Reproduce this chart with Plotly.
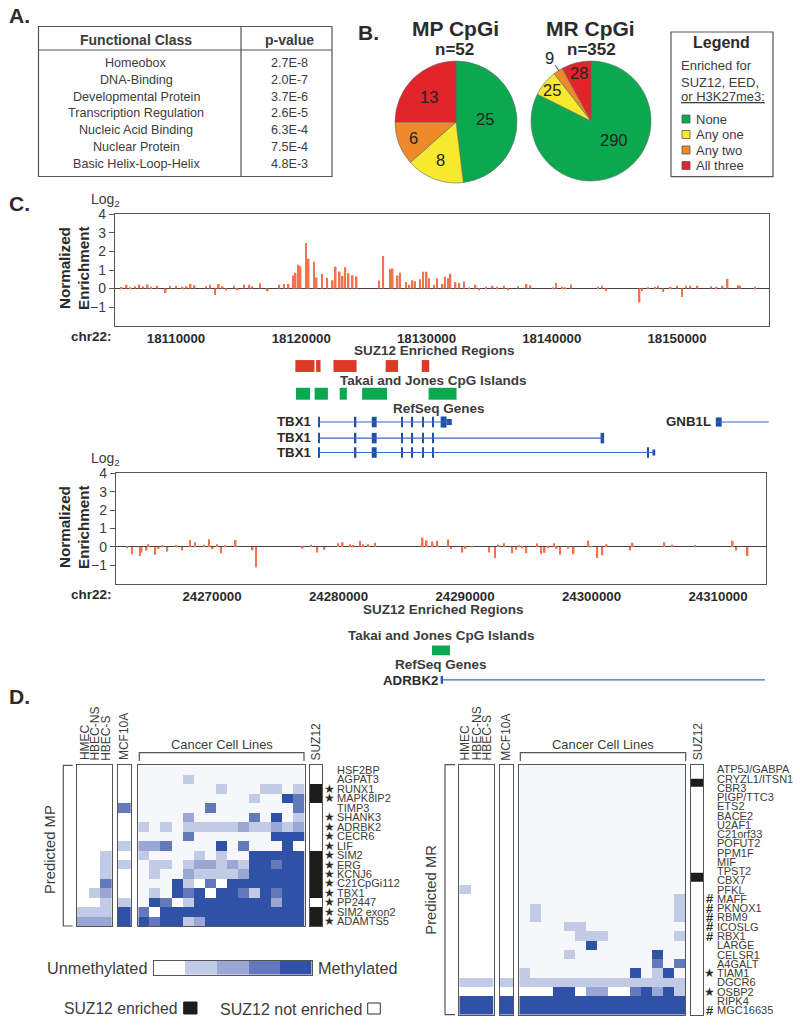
import numpy as np
import plotly.graph_objects as go

# ---------------- data ----------------
TABLE_CLASSES = ["Homeobox", "DNA-Binding", "Developmental Protein", "Transcription Regulation",
                 "Nucleic Acid Binding", "Nuclear Protein", "Basic Helix-Loop-Helix"]
TABLE_PVALUES = ["2.7E-8", "2.0E-7", "3.7E-6", "2.6E-5", "6.3E-4", "7.5E-4", "4.8E-3"]

PIE_MP = [25, 8, 6, 13]
PIE_MR = [290, 25, 9, 28]
LEGEND_LABELS = ["None", "Any one", "Any two", "All three"]

T1_POS = [18105.66,18106.06,18106.38,18106.73,18107.07,18107.39,18107.74,18108.0,18108.51,18109.18,18109.52,18110.0,
          18110.53,18110.85,18111.17,18111.49,18112.39,18112.71,18113.11,18113.41,18113.73,18113.99,18114.63,18114.9,
          18115.43,18115.85,18116.09,18116.71,18117.32,18118.25,18118.62,18118.99,18119.34,18119.55,18119.77,18119.95,
          18120.38,18120.59,18121.02,18121.23,18121.66,18122.08,18122.51,18122.75,18123.07,18123.31,18123.52,18123.78,
          18124.1,18124.42,18126.23,18126.55,18127.08,18127.3,18127.7,18127.88,18128.36,18128.63,18128.89,18129.10,
          18129.48,18129.74,18130.01,18130.22,18130.59,18130.86,18131.29,18131.47,18131.71,18131.92,18132.32,18132.62,
          18132.99,18133.39,18133.92,18134.21,18134.75,18135.28,18135.65,18136.18,18136.53,18137.3,18137.99,18138.31,
          18140.12,18140.33,18140.84,18141.1,18141.53,18143.71,18144.01,18144.33,18147.01,18147.2,18147.7,18148.24,
          18148.5,18148.9,18149.49,18150.02,18150.42,18150.71,18151.08,18151.64,18152.71,18153.16,18153.64,18154.04,
          18154.92,18155.02,18156.22]
T1_VAL = [.08,.2,.05,.12,.22,.13,.22,.1,.15,-.22,.15,.15,
          .1,.12,.25,.18,.12,.2,-.35,.25,.12,-.07,.15,-.08,
          .22,.2,.13,.28,-.15,.2,.25,.25,.7,.85,1.28,1.2,
          2.45,1.6,1.45,.6,.78,.58,.45,1.18,.92,.68,1.15,.82,
          .72,.65,.42,1.75,1.05,1.08,.7,.85,.35,.2,.45,.4,
          .5,.9,.9,.55,.2,.55,.25,.65,.55,.8,.35,.3,
          .38,.05,.2,-.05,.1,.15,.1,.15,-.08,.12,.25,.18,
          .03,.3,.1,.05,.22,.1,.15,-.15,-.75,-.15,.03,.1,
          .15,-.18,.1,.15,-.45,.15,.15,.15,.12,.1,.15,.52,
          .18,.15,.1]

T2_POS = [24263.31,24263.70,24264.31,24264.44,24264.83,24264.97,24265.52,24265.78,24266.10,24266.47,24267.21,24267.65,
          24268.26,24268.65,24269.37,24269.76,24270.05,24270.42,24270.71,24271.05,24271.87,24273.21,24273.48,24277.17,
          24277.82,24278.33,24278.90,24279.99,24280.33,24280.91,24281.17,24281.70,24281.96,24282.36,24282.88,
          24286.65,24286.97,24287.44,24287.81,24288.68,24288.89,24289.79,24290.05,24290.60,24291.92,24292.37,24292.63,
          24293.08,24293.74,24294.03,24294.29,24294.56,24294.85,24295.69,24296.01,24296.30,24296.59,24297.03,24297.24,
          24297.53,24298.17,24298.59,24299.75,24300.0,24300.46,24300.86,24301.2,24303.04,24303.25,24305.76,24306.39,
          24308.18,24311.16,24311.45,24312.34]
T2_VAL = [-.05,-.4,-.5,-.3,-.2,.15,-.42,-.12,.08,-.25,.08,-.2,
          .38,.25,.12,.42,-.12,.15,-.35,.08,.38,-.18,-1.1,-.1,
          .12,-.3,-.15,.2,.25,.15,.1,.32,.15,.15,.22,
          .5,.35,.3,.33,.4,-.12,-.3,-.1,.03,-.3,-.6,.12,
          .2,-.35,-.15,.08,-.05,-.35,.18,-.38,-.32,-.07,.2,-.1,
          -.42,-.1,-.4,.35,.03,-.6,-.45,.15,-.2,.22,.25,.12,
          .1,.33,-.2,-.5]

SUZ_START = [18119.53,18121.19,18122.57,18126.74,18129.62]
SUZ_END = [18121.05,18121.54,18124.42,18127.73,18130.22]
CPG_START = [18119.58,18121.07,18123.07,18124.86,18130.17]
CPG_END = [18120.71,18122.13,18123.64,18126.85,18132.40]
TBX1_EX_START = [18121.37,18124.28,18125.63,18128.00,18128.81,18129.66,18130.46]
TBX1_EX_END = [18121.45,18124.40,18126.02,18128.08,18128.93,18129.78,18130.58]
TBX1_A_LAST = (18131.13, 18131.60)
TBX1_A_UTR = (18131.60, 18132.02)
TBX1_A_END = 18132.02
TBX1_B_LAST = (18143.90, 18144.18)
TBX1_C_LAST = (18147.68, 18147.76)
TBX1_C_UTR = (18148.04, 18148.26)
GNB1L_EXON = (18153.10, 18153.57)
GNB1L_END = 18157.32
CPG2 = (24287.39, 24288.81)
ADRBK2_EXON = (24288.08, 24288.26)
ADRBK2_END = 24313.70

MP_GENES = ["HSF2BP","AGPAT3","RUNX1","MAPK8IP2","TIMP3","SHANK3","ADRBK2","CECR6","LIF","SIM2","ERG","KCNJ6",
            "C21CpGi112","TBX1","PP2447","SIM2 exon2","ADAMTS5"]
MP_STARS = [2,3,5,6,7,8,9,10,11,12,13,14,15,16]
# levels: 0 white, 1 pale, 2..5 methylation, 6 black
MP_NORMAL = [[0,0,0]]*9 + [[0,0,2],[0,0,2],[0,0,2],[0,0,4],[0,2,3],[0,0,2],[2,2,2],[3,3,3]]
MP_MCF = [0,0,0,0,4,0,0,0,2,0,2,0,0,0,2,5,5]
MP_CANCER = [
 [1,1,1,1,1,1,1,1,1,1,1,1,1,1,1],
 [1,1,1,1,2,1,1,1,1,1,1,1,1,1,1],
 [1,1,1,1,1,1,1,2,1,1,1,2,2,1,2],
 [1,1,1,1,1,1,1,1,1,1,2,1,1,5,4],
 [1,1,1,1,1,1,4,1,1,1,1,1,1,1,4],
 [1,1,1,1,3,1,1,1,1,1,4,1,5,1,2],
 [2,1,2,1,2,2,2,2,2,3,2,2,3,2,3],
 [1,1,1,1,4,1,1,1,1,1,1,1,5,5,5],
 [3,3,4,1,1,1,1,5,1,4,1,1,1,5,0],
 [2,1,1,1,1,2,1,2,1,1,5,5,5,5,5],
 [1,2,2,1,2,3,3,2,3,2,5,5,4,5,5],
 [1,2,1,1,3,2,2,2,2,3,5,5,5,5,5],
 [1,1,1,5,2,0,4,0,5,5,5,5,5,5,5],
 [1,2,1,5,4,5,0,5,5,4,2,5,4,5,5],
 [1,5,4,0,2,5,5,5,5,5,5,5,3,5,5],
 [4,0,5,5,5,5,5,5,5,5,5,5,5,5,5],
 [5,4,5,5,2,3,5,5,5,5,5,5,5,5,5],
]
MP_SUZ = [0,0,6,6,0,0,0,0,0,6,6,6,6,6,0,6,6]

MR_GENES = ["ATP5J/GABPA","CRYZL1/ITSN1","CBR3","PIGP/TTC3","ETS2","BACE2","U2AF1","C21orf33","POFUT2","PPM1F","MIF",
            "TPST2","CBX7","PFKL","MAFF","PKNOX1","RBM9","ICOSLG","RBX1","LARGE","CELSR1","A4GALT","TIAM1","DGCR6",
            "OSBP2","RIPK4","MGC16635"]
MR_STARS = [22,24]
MR_HASH = [14,15,16,17,18,26]
MR_NORMAL = [[0,0,0]]*13 + [[2,0,0]] + [[0,0,0]]*9 + [[2,2,2],[0,0,0],[5,5,5],[5,5,5]]
MR_MCF = [0]*23 + [2,0,5,5]
MR_CANCER = [[1]*15 for _ in range(13)] + [
 [1,1,1,1,1,1,1,1,1,1,1,1,1,1,1],
 [1,1,1,1,1,1,1,1,1,1,1,1,1,1,2],
 [1,2,1,1,1,1,1,1,1,1,1,1,1,1,2],
 [1,2,1,1,1,1,1,1,1,1,1,1,1,1,2],
 [1,1,1,1,2,2,1,1,1,1,1,1,1,1,1],
 [1,1,1,1,1,2,2,2,1,1,1,1,1,1,2],
 [1,1,1,1,1,1,5,1,1,1,1,1,1,1,1],
 [1,1,1,1,2,1,1,1,1,1,1,1,5,1,1],
 [1,1,1,1,1,1,1,1,1,1,1,1,4,1,4],
 [2,1,1,1,1,1,1,1,1,1,5,1,2,5,1],
 [2,2,2,2,2,2,2,2,2,2,2,2,2,2,2],
 [0,0,0,5,5,0,3,3,0,0,4,5,3,5,2],
 [5,5,5,5,5,5,5,5,5,5,5,5,5,5,5],
 [5,5,5,5,5,5,5,5,5,5,5,5,5,5,5],
]
MR_SUZ_EDGES = [-0.5, 0.97, 1.87, 11.15, 12.13, 26.5]
MR_SUZ = [[0],[6],[0],[6],[0]]
SCALE_LEVELS = [[0,2,3,4,5]]

# ---------------- style ----------------
W, H = 800, 1029
FONT = "Liberation Sans"
INK = "#3c3c3c"
DARK = "#2b2b2b"
BOX = "#555555"
LEVEL_COLORS = ["#ffffff","#f5f7fb","#c2cbe5","#9aa7d4","#6478bc","#2f52a6","#1c1c1c"]
PIE_COLORS = ["#0aa84f","#f6e92e","#ef8a2b","#e2242b"]
BAR_COLOR = "#f0734d"
RED_REGION = "#dc3a26"
GREEN_REGION = "#0aa84f"
GENE_LINE = "#3a68c4"
GENE_EXON = "#1f50a8"

def fx(p): return p / W
def fy(p): return 1 - p / H

n = len(LEVEL_COLORS)
CS = []
for i, c in enumerate(LEVEL_COLORS):
    CS += [[i / n, c], [(i + 1) / n, c]]

fig = go.Figure()
ann, shp, lay = [], [], {}

def T(x, y, text, size=12.5, bold=False, color=INK, anchor="center", angle=0, yanchor="middle"):
    ann.append(dict(x=fx(x), y=fy(y), xref="paper", yref="paper",
                    text=f"<b>{text}</b>" if bold else text, showarrow=False,
                    font=dict(family=FONT, size=size, color=color),
                    xanchor=anchor, yanchor=yanchor, textangle=angle, borderpad=0))

def RowT(x, row, yref, text, family=FONT, size=11, color=INK, anchor="left"):
    ann.append(dict(x=fx(x), xref="paper", y=row, yref=yref, text=text, showarrow=False, xanchor=anchor,
                    borderpad=0, font=dict(family=family, size=size, color=color)))

def R(x0, y0, x1, y1, line=BOX, lw=1.2, fill=None):
    shp.append(dict(type="rect", xref="paper", yref="paper", x0=fx(x0), x1=fx(x1), y0=fy(y0), y1=fy(y1),
                    line=dict(color=line, width=lw), fillcolor=fill, layer="above"))

def L(points, color=BOX, lw=1.2):
    p = "M" + " L".join(f"{fx(a):.5f},{fy(b):.5f}" for a, b in points)
    shp.append(dict(type="path", path=p, xref="paper", yref="paper", line=dict(color=color, width=lw), layer="above"))

def axes(i, px0, px1, py0, py1, xr, yr):
    lay[f"xaxis{i}"] = dict(domain=[fx(px0), fx(px1)], range=xr, anchor=f"y{i}", showgrid=False, zeroline=False,
                            showticklabels=False, ticks="", fixedrange=True, automargin=False)
    lay[f"yaxis{i}"] = dict(domain=[fy(py1), fy(py0)], range=yr, anchor=f"x{i}", showgrid=False, zeroline=False,
                            showticklabels=False, ticks="", fixedrange=True, automargin=False)

def boxed(i):
    for k in (f"xaxis{i}", f"yaxis{i}"):
        lay[k].update(showline=True, mirror=True, linecolor=BOX, linewidth=1.4)

# ---------------- panel letters ----------------
T(8, 16, "A.", 21, True, anchor="left", color=DARK)
T(357, 32, "B.", 21, True, anchor="left", color=DARK)
T(8, 203, "C.", 21, True, anchor="left", color=DARK)
T(8, 696, "D.", 21, True, anchor="left", color=DARK)

# ---------------- A table ----------------
R(38.5, 26.5, 332, 176.5)
L([(241, 26.5), (241, 176.5)])
L([(38.5, 50), (332, 50)])
T(136, 40, "Functional Class", 14, True)
T(289, 40, "p-value", 14, True)
for i, (c, p) in enumerate(zip(TABLE_CLASSES, TABLE_PVALUES)):
    T(136, 63 + i * 16.75, c, 12.6)
    T(289, 63 + i * 16.75, p, 12.6)

# ---------------- B pies ----------------
for vals, cx, cy, r in [(PIE_MP, 456, 122, 61), (PIE_MR, 591, 121, 60)]:
    fig.add_trace(go.Pie(values=vals, sort=False, direction="clockwise", rotation=0, textinfo="none",
                         marker=dict(colors=PIE_COLORS, line=dict(color="#666666", width=0.6)),
                         domain=dict(x=[fx(cx - r), fx(cx + r)], y=[fy(cy + r), fy(cy - r)]),
                         showlegend=False, hoverinfo="label+value"))
T(455, 29, "MP CpGi", 21, True, color=DARK)
T(454, 49, "n=52", 17, True, color=DARK)
T(590, 29, "MR CpGi", 21, True, color=DARK)
T(591, 49, "n=352", 17, True, color=DARK)
for x, y, v in [(485, 119, PIE_MP[0]), (440, 160, PIE_MP[1]), (414, 138, PIE_MP[2]), (429, 97, PIE_MP[3]),
                (614, 140, PIE_MR[0]), (552, 90, PIE_MR[1]), (549, 58, PIE_MR[2]), (579, 73, PIE_MR[3])]:
    T(x, y, str(v), 16.5, False, color="#222222")
L([(555, 65), (559, 71)], "#444444", 1)

R(671, 32, 773, 176.7)
T(721, 43, "Legend", 16, True, color=DARK)
T(680, 66, "Enriched for", 13, anchor="left")
T(680, 82, "SUZ12, EED,", 13, anchor="left")
T(680, 97, "<u>or H3K27me3:</u>", 13, anchor="left")
for i, (lab, c) in enumerate(zip(LEGEND_LABELS, PIE_COLORS)):
    y = 119 + i * 15.5
    R(682, y - 4, 690, y + 4, "#555555", 0.8, c)
    T(694.5, y, lab, 13, anchor="left")

# ---------------- C tracks ----------------
T1_RANGE = [18105130, 18157345]
T2_RANGE = [24262410, 24313770]

def track(i, pos, val, xr, px0, px1, py0, py1):
    fig.add_trace(go.Bar(x=np.array(pos) * 1000, y=val, width=130, marker=dict(color=BAR_COLOR, line=dict(width=0)),
                         xaxis=f"x{i}", yaxis=f"y{i}", showlegend=False))
    axes(i, px0, px1, py0, py1, xr, [-2, 4])
    lay[f"xaxis{i}"].update(showticklabels=True, tick0=18110000 if i == 1 else 24270000, dtick=10000, tickformat="d",
                            tickfont=dict(family=FONT, size=13.3, color=DARK, weight="bold"), ticks="outside",
                            ticklen=0)
    lay[f"yaxis{i}"].update(showticklabels=True, tickvals=[-1, 0, 1, 2, 3, 4], ticks="outside", ticklen=5,
                            tickcolor=BOX, tickwidth=1.2, tickfont=dict(family=FONT, size=14, color=INK),
                            zeroline=True, zerolinecolor="#444444", zerolinewidth=1.4, tickformat="d")
    boxed(i)

track(1, T1_POS, T1_VAL, T1_RANGE, 115, 769, 214.3, 325.7)
track(3, T2_POS, T2_VAL, T2_RANGE, 116, 765.7, 473.3, 583.7)

for yc, ylog, ychr in [(268, 200, 337), (527, 459, 594)]:
    T(64, yc, "Normalized", 15.2, True, angle=-90, color=DARK)
    T(83, yc, "Enrichment", 15.2, True, angle=-90, color=DARK)
    T(90, ylog, "Log<sub>2</sub>", 14, anchor="left")
    T(113, ychr, "chr22:", 13.5, True, anchor="right", color=DARK)

# gene panels
axes(2, 115, 769, 355, 460, T1_RANGE, [3.39, -0.397])
axes(4, 116, 765.7, 625, 690, T2_RANGE, [1.34, -0.86])

def blocks(i, row, starts, ends, color, thick):
    s = np.array(starts) * 1000
    e = np.array(ends) * 1000
    fig.add_trace(go.Bar(y=[row] * len(s), x=e - s, base=s, orientation="h", width=thick,
                         marker=dict(color=color, line=dict(width=0)),
                         xaxis=f"x{i}", yaxis=f"y{i}", showlegend=False))

def gene_line(i, row, a, b):
    fig.add_trace(go.Scatter(x=[a * 1000, b * 1000], y=[row, row], mode="lines", line=dict(color=GENE_LINE, width=1.2),
                             xaxis=f"x{i}", yaxis=f"y{i}", showlegend=False))

ROW_SUZ, ROW_CPG, ROW_A, ROW_B, ROW_C = 0, 1, 2.02, 2.6, 3.12
blocks(2, ROW_SUZ, SUZ_START, SUZ_END, RED_REGION, 0.43)
blocks(2, ROW_CPG, CPG_START, CPG_END, GREEN_REGION, 0.43)
gene_line(2, ROW_A, TBX1_EX_START[0], TBX1_A_END)
gene_line(2, ROW_B, TBX1_EX_START[0], TBX1_B_LAST[1])
gene_line(2, ROW_C, TBX1_EX_START[0], TBX1_C_UTR[1])
for row in (ROW_A, ROW_B, ROW_C):
    blocks(2, row, TBX1_EX_START, TBX1_EX_END, GENE_EXON, 0.38)
blocks(2, ROW_A, [TBX1_A_LAST[0]], [TBX1_A_LAST[1]], GENE_EXON, 0.4)
blocks(2, ROW_A, [TBX1_A_UTR[0]], [TBX1_A_UTR[1]], GENE_EXON, 0.22)
blocks(2, ROW_B, [TBX1_B_LAST[0]], [TBX1_B_LAST[1]], GENE_EXON, 0.38)
blocks(2, ROW_C, [TBX1_C_LAST[0]], [TBX1_C_LAST[1]], GENE_EXON, 0.38)
blocks(2, ROW_C, [TBX1_C_UTR[0]], [TBX1_C_UTR[1]], GENE_EXON, 0.22)
gene_line(2, ROW_A, GNB1L_EXON[0], GNB1L_END)
blocks(2, ROW_A, [GNB1L_EXON[0]], [GNB1L_EXON[1]], GENE_EXON, 0.33)

blocks(4, 0, [CPG2[0]], [CPG2[1]], GREEN_REGION, 0.33)
gene_line(4, 1, ADRBK2_EXON[0], ADRBK2_END)
blocks(4, 1, [ADRBK2_EXON[0]], [ADRBK2_EXON[1]], GENE_EXON, 0.26)

T(434.6, 351, "SUZ12 Enriched Regions", 13.5, True)
T(433, 380, "Takai and Jones CpG Islands", 13.5, True)
T(438.6, 408, "RefSeq Genes", 13.5, True)
for y in (421.7, 437.9, 452.5):
    T(312.7, y, "TBX1", 13.3, True, anchor="right", color=DARK)
T(712, 421.7, "GNB1L", 13.3, True, anchor="right", color=DARK)
T(443, 609, "SUZ12 Enriched Regions", 13.5, True)
T(441, 635, "Takai and Jones CpG Islands", 13.5, True)
T(441, 664, "RefSeq Genes", 13.5, True)
T(439, 680, "ADRBK2", 13.3, True, anchor="right", color=DARK)

# ---------------- D heatmaps ----------------
def heat(i, z, px0, px1, py0, py1, nrows, y=None):
    z = np.array(z)
    if z.ndim == 1:
        z = z.reshape(-1, 1)
    kw = dict(z=z, zmin=-0.5, zmax=6.5, colorscale=CS, showscale=False, xaxis=f"x{i}", yaxis=f"y{i}")
    if y is not None:
        kw.update(y=y, x=[0])
    fig.add_trace(go.Heatmap(**kw))
    axes(i, px0, px1, py0, py1, [-0.5, z.shape[1] - 0.5], [nrows - 0.5, -0.5])
    boxed(i)

# MP
TOP, BOT = 765.3, 926
heat(5, MP_NORMAL, 77, 111.7, TOP, BOT, 17)
heat(6, MP_MCF, 117.7, 131, TOP, BOT, 17)
heat(7, MP_CANCER, 138.3, 304.7, TOP, BOT, 17)
heat(8, MP_SUZ, 310, 322, TOP, BOT, 17)
# MR
TOP2, BOT2 = 764.7, 1014.7
heat(9, MR_NORMAL, 459.3, 493.7, TOP2, BOT2, 27)
heat(10, MR_MCF, 500, 513, TOP2, BOT2, 27)
heat(11, MR_CANCER, 519.3, 685.3, TOP2, BOT2, 27)
heat(12, MR_SUZ, 691, 703, TOP2, BOT2, 27, y=MR_SUZ_EDGES)
# scale
heat(13, SCALE_LEVELS, 153.7, 311.7, 960.7, 974.7, 1)

HDR = 12
for x, t in [(84.5, "HMEC"), (95, "HBEC-NS"), (105.7, "HBEC-S"), (124, "MCF10A"), (316, "SUZ12"),
             (465, "HMEC"), (476.7, "HBEC-NS"), (487.3, "HBEC-S"), (505.7, "MCF10A"), (697.7, "SUZ12")]:
    T(x, 761.6, t, HDR, angle=-90, yanchor="bottom")
T(221.7, 744, "Cancer Cell Lines", 12.9)
T(602.7, 744, "Cancer Cell Lines", 12.9)
L([(139.3, 761), (139.3, 752.7), (304, 752.7), (304, 761)])
L([(520.3, 761), (520.3, 752.7), (685.7, 752.7), (685.7, 761)])
T(50, 850, "Predicted MP", 14.8, angle=-90)
T(430.7, 890, "Predicted MR", 14.8, angle=-90)
L([(72.7, 765.3), (63.3, 765.3), (63.3, 926), (72.7, 926)])
L([(455, 764.7), (445, 764.7), (445, 1014.7), (455, 1014.7)])

for r, g in enumerate(MP_GENES):
    RowT(336, r, "y8", g)
for r in MP_STARS:
    RowT(329.5, r, "y8", "★", "DejaVu Sans", 12, DARK, "center")
for r, g in enumerate(MR_GENES):
    RowT(716, r, "y12", g)
for r in MR_STARS:
    RowT(709.3, r, "y12", "★", "DejaVu Sans", 12, DARK, "center")
for r in MR_HASH:
    RowT(710, r, "y12", "<b>#</b>", FONT, 13, DARK, "center")

T(148, 968, "Unmethylated", 16.3, anchor="right")
T(316.7, 968, "Methylated", 16.3, anchor="left")
T(62.7, 1008, "SUZ12 enriched", 15.7, anchor="left")
R(183.7, 1002, 197, 1014, "#1c1c1c", 1, "#1c1c1c")
T(219, 1009, "SUZ12 not enriched", 16, anchor="left")
R(367.7, 1003, 380.3, 1014, "#333333", 1, "#ffffff")

fig.update_layout(width=W, height=H, margin=dict(l=0, r=0, t=0, b=0), paper_bgcolor="white", plot_bgcolor="white",
                  barmode="overlay", showlegend=False, annotations=ann, shapes=shp, font=dict(family=FONT), **lay)

fig.write_html("out.html", post_script="document.body.style.margin='0';",
               config=dict(displayModeBar=False))
